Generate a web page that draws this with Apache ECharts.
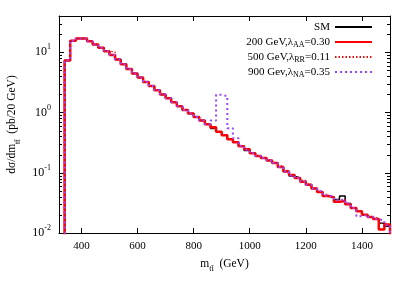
<!DOCTYPE html>
<html>
<head>
<meta charset="utf-8">
<script src="https://cdn.jsdelivr.net/npm/echarts@6/dist/echarts.min.js"></script>
<style>
html,body{margin:0;padding:0;background:#fff;}
#chart{width:415px;height:291px;}
</style>
</head>
<body>
<div id="chart"></div>
<script>
// lower edges of the 20 GeV bins (GeV)
const binLow = [340,360,380,400,420,440,460,480,500,520,540,560,580,600,620,640,660,680,700,720,
  740,760,780,800,820,840,860,880,900,920,940,960,980,1000,1020,1040,1060,1080,1100,1120,
  1140,1160,1180,1200,1220,1240,1260,1280,1300,1320,1340,1360,1380,1400,1420,1440,1460,1480];
const binWidth = 20;

// dσ/dm (pb/20 GeV)
const smValues = [7.3,15.6,17.0,16.9,15.2,13.4,11.9,10.4,9.0,7.6,6.3,5.3,4.45,3.8,3.2,2.75,2.35,2.0,1.72,1.48,
  1.27,1.1,0.96,0.84,0.74,0.64,0.545,0.48,0.42,0.36,0.32,0.275,0.235,0.21,0.19,0.175,0.16,0.145,0.125,0.105,
  0.088,0.082,0.071,0.063,0.055,0.048,0.041,0.040,0.036,0.041,0.031,0.026,0.023,0.020,0.0185,0.017,0.0145,0.013];
const s200Values = [7.3,15.6,17.0,16.9,15.2,13.4,11.9,10.4,9.0,7.6,6.3,5.3,4.45,3.8,3.2,2.75,2.35,2.0,1.72,1.48,
  1.27,1.1,0.96,0.84,0.74,0.64,0.57,0.48,0.42,0.36,0.32,0.275,0.245,0.21,0.19,0.175,0.16,0.145,0.125,0.105,
  0.092,0.082,0.071,0.063,0.055,0.048,0.041,0.039,0.033,0.034,0.030,0.026,0.023,0.020,0.0185,0.017,0.0114,0.0138];
const s500Values = [7.3,15.6,17.0,16.9,15.2,13.4,11.9,10.4,10.2,7.8,6.3,5.3,4.45,3.8,3.2,2.75,2.35,2.0,1.72,1.48,
  1.27,1.1,0.96,0.84,0.74,0.64,0.55,0.48,0.42,0.36,0.32,0.275,0.24,0.21,0.19,0.175,0.16,0.145,0.13,0.11,
  0.09,0.082,0.075,0.065,0.055,0.048,0.044,0.040,0.035,0.036,0.031,0.026,0.023,0.020,0.0185,0.0175,0.0145,0.0135];
const s900Values = [7.3,15.6,17.0,16.9,15.2,13.4,11.9,10.4,9.0,7.6,6.3,5.3,4.45,3.8,3.2,2.75,2.35,2.0,1.72,1.48,
  1.27,1.1,0.96,0.84,0.74,0.64,0.74,1.97,1.87,0.55,0.375,0.28,0.24,0.21,0.19,0.175,0.16,0.145,0.125,0.105,
  0.09,0.082,0.071,0.063,0.055,0.05,0.042,0.040,0.035,0.036,0.031,0.026,0.019,0.020,0.0185,0.017,0.016,0.0135];

const seriesNames = ['SM','200 GeV,λAA=0.30','500 GeV,λRR=0.11','900 Gev,λNA=0.35'];
const legendLabels = ['SM','200 GeV,λ{sub|AA}=0.30','500 GeV,λ{sub|RR}=0.11','900 Gev,λ{sub|NA}=0.35'];

const xTickValues = [400,600,800,1000,1200,1400];
const yTickValues = [0.01,0.1,1,10];
const yMinorValues = [0.02,0.03,0.04,0.05,0.06,0.07,0.08,0.09,0.2,0.3,0.4,0.5,0.6,0.7,0.8,0.9,
  2,3,4,5,6,7,8,9,20,30,40];

const X_MIN = 320, X_MAX = 1500, Y_MIN = 0.01, Y_MAX = 40;
const FONT = 'Liberation Serif';
const FLOOR = 1e-4;

function stepData(vals){
  const d = [[binLow[0], FLOOR]];
  for (let i = 0; i < vals.length; i++) d.push([binLow[i], vals[i]]);
  d.push([binLow[binLow.length-1] + binWidth, FLOOR]);
  return d;
}

const chart = echarts.init(document.getElementById('chart'), null, {renderer:'canvas'});

const frameLine = {show:true, onZero:false, lineStyle:{color:'#000', width:1}};

function yAxisBase(pos){
  return {
    type:'log', logBase:10, min:Y_MIN, max:Y_MAX, position:pos,
    axisLine:frameLine,
    axisTick:{show:true, inside:true, length:5, customValues:yTickValues, lineStyle:{color:'#000', width:1}},
    axisLabel:{show:false},
    splitLine:{show:false}, minorTick:{show:false}
  };
}

const yMain = yAxisBase('left');
yMain.axisLabel = {
  show:true, customValues:yTickValues, margin:8, color:'#000', fontFamily:FONT, fontSize:11,
  formatter: function(v){ return '{b|10}{s|' + Math.round(Math.log10(v)) + '}'; },
  rich:{ b:{fontFamily:FONT, fontSize:12, color:'#000', lineHeight:18},
         s:{fontFamily:FONT, fontSize:8, color:'#000', verticalAlign:'top', lineHeight:18} }
};
yMain.name = 'dσ/dm{sub|tt̄}  (pb/20 GeV)';
yMain.nameLocation = 'middle';
yMain.nameRotate = 90;
yMain.nameGap = 34;
yMain.nameTextStyle = {fontFamily:FONT, fontSize:11.5, color:'#000',
  rich:{sub:{fontFamily:FONT, fontSize:8, color:'#000', verticalAlign:'bottom', lineHeight:18}}};

const colors = ['#000000','#ff0000','#e01010','#9a45ff'];
const lineStyles = [
  {color:colors[0], width:1.5, type:'solid'},
  {color:colors[1], width:2.5, type:'solid'},
  {color:colors[2], width:1.2, type:[1.5,2]},
  {color:colors[3], width:2, type:[2,3]}
];
const allValues = [smValues, s200Values, s500Values, s900Values];

const histSeries = allValues.map(function(vals, i){
  return {
    name:seriesNames[i], type:'line', step:'end', xAxisIndex:0, yAxisIndex:0,
    symbol:'none', showSymbol:false, clip:true,
    lineStyle:lineStyles[i], itemStyle:{color:colors[i]},
    data:stepData(vals), z:2+i
  };
});

// minor log ticks on left and right frame edges
const minorTickSeries = {
  type:'custom', name:'minorTicks', silent:true, clip:false, z:10,
  xAxisIndex:0, yAxisIndex:0,
  data: yMinorValues.map(function(v){ return [X_MIN, v]; }),
  encode:{x:0, y:1},
  renderItem: function(params, api){
    const v = api.value(1);
    const pL = api.coord([X_MIN, v]);
    const pR = api.coord([X_MAX, v]);
    const y = Math.round(pL[1]) + 0.5;
    return {type:'group', children:[
      {type:'line', shape:{x1:pL[0], y1:y, x2:pL[0]+3, y2:y}, style:{stroke:'#000', lineWidth:1}},
      {type:'line', shape:{x1:pR[0]-3, y1:y, x2:pR[0], y2:y}, style:{stroke:'#000', lineWidth:1}}
    ]};
  }
};

const option = {
  animation:false,
  backgroundColor:'#fff',
  grid:{left:59, right:25, top:16, bottom:58, outerBoundsMode:'none', containLabel:false},
  legend:{
    data:seriesNames, orient:'vertical', align:'right', right:42, top:20, padding:0,
    itemWidth:37, itemHeight:14, itemGap:1,
    itemStyle:{opacity:0, borderWidth:0, color:'transparent'},
    formatter: function(name){ return legendLabels[seriesNames.indexOf(name)]; },
    textStyle:{fontFamily:FONT, fontSize:11, color:'#000', lineHeight:14,
      rich:{sub:{fontFamily:FONT, fontSize:8, color:'#000', verticalAlign:'bottom', lineHeight:14}}}
  },
  xAxis:[
    {type:'value', min:X_MIN, max:X_MAX, position:'bottom',
     axisLine:frameLine,
     axisTick:{show:true, inside:true, length:5, customValues:xTickValues, lineStyle:{color:'#000'}},
     axisLabel:{show:true, customValues:xTickValues, margin:8, color:'#000', fontFamily:FONT, fontSize:11,
       formatter:function(v){ return String(v); }},
     splitLine:{show:false},
     name:'m{sub|tt̄}  (GeV)', nameLocation:'middle', nameGap:22,
     nameTextStyle:{fontFamily:FONT, fontSize:11.5, color:'#000',
       rich:{sub:{fontFamily:FONT, fontSize:8, color:'#000', verticalAlign:'bottom', lineHeight:18}}}
    },
    {type:'value', min:X_MIN, max:X_MAX, position:'top',
     axisLine:frameLine,
     axisTick:{show:true, inside:true, length:5, customValues:xTickValues, lineStyle:{color:'#000'}},
     axisLabel:{show:false}, splitLine:{show:false}}
  ],
  yAxis:[ yMain, yAxisBase('right') ],
  series: histSeries.concat([minorTickSeries])
};
chart.setOption(option);
</script>
</body>
</html>
